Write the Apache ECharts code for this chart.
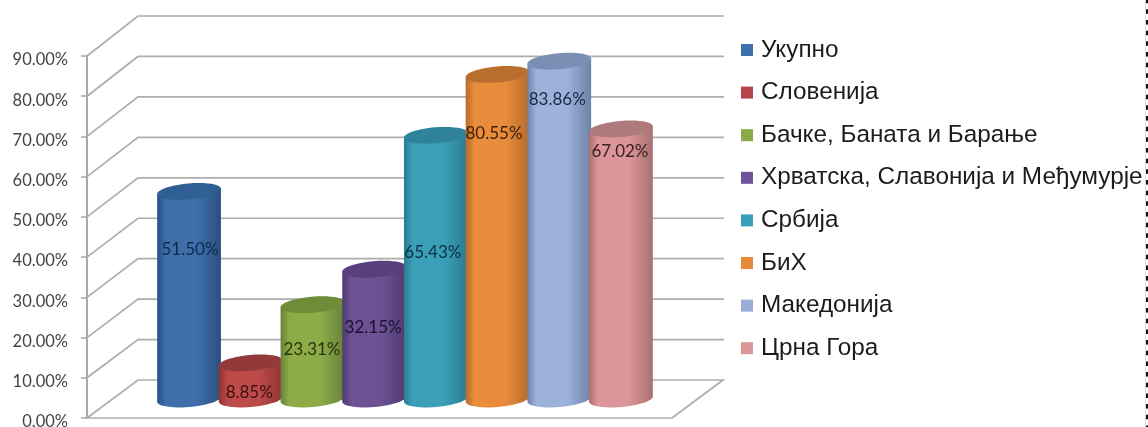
<!DOCTYPE html>
<html><head><meta charset="utf-8">
<style>html,body{margin:0;padding:0;background:#fff}#c{width:1148px;height:427px}</style>
<script src="https://cdn.jsdelivr.net/npm/echarts@6/dist/echarts.min.js"></script>
</head><body><div id="c"></div>
<script>
const category = [''];
const seriesNames = ['Укупно','Словенија','Бачке, Баната и Барање','Хрватска, Славонија и Међумурје','Србија','БиХ','Македонија','Црна Гора'];
const seriesValues = [51.50, 8.85, 23.31, 32.15, 65.43, 80.55, 83.86, 67.02];
const yTicks = [0,10,20,30,40,50,60,70,80,90];

// styling
const palette = [
 {legend:'#3f6fad', edge:'#2b4f7e', mid:'#3e6fab', top:'#2f5f94', text:'#0e2a50'},
 {legend:'#b5434a', edge:'#8e3433', mid:'#bd4b4a', top:'#94393a', text:'#3d1010'},
 {legend:'#8aaa4a', edge:'#67823a', mid:'#8dac48', top:'#6f8c38', text:'#26330c'},
 {legend:'#6f5297', edge:'#4f3a70', mid:'#6c5193', top:'#57407c', text:'#1b1030'},
 {legend:'#36a0b8', edge:'#2a7c92', mid:'#3b9fb8', top:'#2e8299', text:'#0b3040'},
 {legend:'#e58a3a', edge:'#b56c2a', mid:'#e98c3c', top:'#b96e2d', text:'#3c1e05'},
 {legend:'#99aed6', edge:'#6f83a8', mid:'#9cb2da', top:'#7b8fb5', text:'#1c2a44'},
 {legend:'#da9698', edge:'#a87072', mid:'#dc9699', top:'#ae7a7b', text:'#3c2022'}
];
const labelFraction = [.726,.2,.54,.56,.56,.82,.89,.92];
const labelNudge = [1,-1.5,-0.5,-1,-3,-3.5,-2,-1];
const GRID = {left:87, top:56, width:585, height:362};
const DEPTH_X = 51, DEPTH_Y = 38, DEPTH_GROW = 0.022;
const STEP = 61.7, RX = 32, RY = 8, TILT = -5 * Math.PI / 180;

function wallItem(params, api){
  const v = api.value(0);
  const c = api.coord([0, v]);
  const band = api.size([1,0])[0];
  const x0 = c[0] - band/2, y = c[1];
  const d = DEPTH_Y + v * DEPTH_GROW;
  const pts = v === 0
    ? [[x0+band, y],[x0,y],[x0+DEPTH_X,y-d],[x0+DEPTH_X+band,y-d],[x0+band,y]]
    : [[x0,y],[x0+DEPTH_X,y-d],[x0+DEPTH_X+band+1,y-d]];
  return {type:'polyline', shape:{points:pts}, style:{stroke:'#adadad', lineWidth:1.7, fill:null}, z2:0};
}

function cylinderItem(i){
  return function(params, api){
    const val = api.value(1);
    const base = api.coord([0, 0]);
    const top = api.coord([0, val]);
    const cx = base[0] + DEPTH_X/2 + (i - 3.5) * STEP;
    const yb = base[1] - 19, yt = top[1] - 19.5;
    const dx = RX*Math.cos(TILT), dy = RX*Math.sin(TILT);
    const p = palette[i];
    const pts = [[cx-dx, yt-dy]];
    for (let k = 0; k <= 24; k++) {
      const t = Math.PI - Math.PI * k / 24;
      pts.push([cx + RX*Math.cos(t)*Math.cos(TILT) - RY*Math.sin(t)*Math.sin(TILT),
                yb + RX*Math.cos(t)*Math.sin(TILT) + RY*Math.sin(t)*Math.cos(TILT)]);
    }
    pts.push([cx+dx, yt+dy]);
    const lab = yb - (yb - yt) * labelFraction[i] + 1;
    return {type:'group', children:[
      {type:'polygon', shape:{points:pts},
       style:{fill:new echarts.graphic.LinearGradient(0,0,1,0,[
         {offset:0,color:p.edge},{offset:.14,color:p.mid},{offset:.62,color:p.mid},{offset:1,color:p.edge}])}},
      {type:'ellipse', shape:{cx:0,cy:0,rx:RX,ry:RY}, x:cx, y:yt, rotation:-TILT, style:{fill:p.top}},
      {type:'text', x:cx+labelNudge[i], y:lab, style:{text:val.toFixed(2)+'%', fill:p.text, font:'17px Lato', align:'center', verticalAlign:'middle'}}
    ]};
  };
}

const series = [{
  type:'custom', name:'walls', silent:true, renderItem:wallItem,
  encode:{y:0}, data:yTicks.map(v=>[v]), z:1
}].concat(seriesNames.map((name,i)=>({
  type:'custom', name, silent:true, renderItem:cylinderItem(i), z:2+i,
  itemStyle:{color:palette[i].legend},
  encode:{x:0,y:1}, data:[[0, seriesValues[i]]]
})));

const chart = echarts.init(document.getElementById('c'), null, {renderer:'canvas'});
chart.setOption({
  animation:false, backgroundColor:'#fff',
  grid:Object.assign({containLabel:false, outerBoundsMode:'none'}, GRID),
  xAxis:{type:'category', data:category, axisLine:{show:false}, axisTick:{show:false}, axisLabel:{show:false}},
  yAxis:{type:'value', min:0, max:90, interval:10,
    axisLine:{show:true, lineStyle:{color:'#a8a8a8', width:2}},
    axisTick:{show:true, length:6, lineStyle:{color:'#a8a8a8', width:1.5}},
    splitLine:{show:false},
    axisLabel:{margin:19, color:'#444', fontFamily:'Lato', fontSize:16.5, verticalAlign:'top', lineHeight:8,
      formatter:v=>v.toFixed(2)+'%'}},
  legend:{orient:'vertical', left:741, top:37, padding:0, itemWidth:12, itemHeight:12, itemGap:16.6, selectedMode:false,
    data:seriesNames.map(n=>({name:n, icon:'rect'})),
    textStyle:{color:'#1c1c1c', fontFamily:'Liberation Sans', fontSize:24.3, padding:[0,0,2,3], lineHeight:24}},
  graphic:[
    {type:'line', silent:true, shape:{x1:1145.5,y1:0,x2:1145.5,y2:427}, style:{stroke:'#dcdce4', lineWidth:1}},
    {type:'line', silent:true, shape:{x1:1147,y1:0,x2:1147,y2:427},
     style:{stroke:'#111', lineWidth:2, lineDash:[4.5,6.17], lineDashOffset:1.37}}
  ],
  series
});
</script></body></html>
